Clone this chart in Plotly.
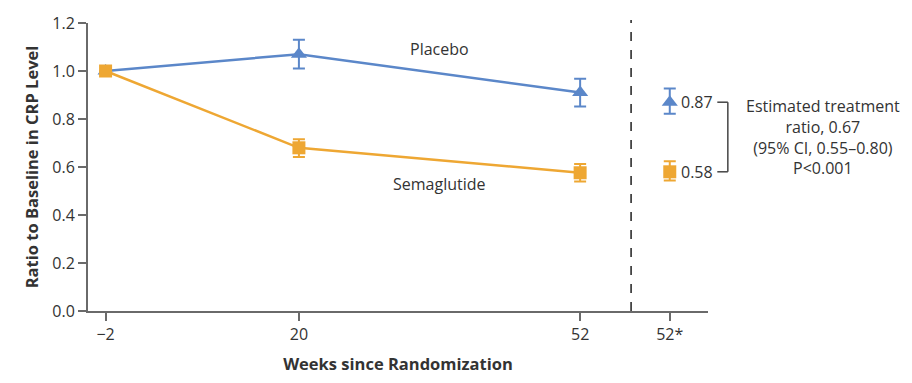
import plotly.graph_objects as go

weeks = [-2, 20, 52]
tick_vals = [-2, 20, 52, 62.2]
tick_text = ["\u22122", "20", "52", "52*"]

placebo = [1.0, 1.07, 0.91]
placebo_hi = [1.0, 1.13, 0.968]
placebo_lo = [1.0, 1.01, 0.852]

sema = [1.0, 0.68, 0.576]
sema_hi = [1.0, 0.716, 0.612]
sema_lo = [1.0, 0.642, 0.54]

est_x = 62.2
est_placebo, est_placebo_hi, est_placebo_lo = 0.87, 0.927, 0.822
est_sema, est_sema_hi, est_sema_lo = 0.58, 0.624, 0.544

BLUE = "#5b87c9"
ORANGE = "#eea733"
TXT = "#333333"
AX = "#6a6a6a"
FONT = "Open Sans"

def err(v, hi, lo):
    return dict(type="data", symmetric=False,
                array=[h - x for h, x in zip(hi, v)],
                arrayminus=[x - l for x, l in zip(v, lo)])

fig = go.Figure()
fig.add_trace(go.Scatter(x=weeks, y=placebo, mode="lines+markers",
                         line=dict(color=BLUE, width=2.5),
                         marker=dict(symbol="triangle-up", size=14, color=BLUE),
                         error_y=dict(**err(placebo, placebo_hi, placebo_lo), color=BLUE, thickness=2, width=6)))
fig.add_trace(go.Scatter(x=weeks, y=sema, mode="lines+markers",
                         line=dict(color=ORANGE, width=2.5),
                         marker=dict(symbol="square", size=13, color=ORANGE),
                         error_y=dict(**err(sema, sema_hi, sema_lo), color=ORANGE, thickness=2, width=6)))
fig.add_trace(go.Scatter(x=[est_x], y=[est_placebo], mode="markers",
                         marker=dict(symbol="triangle-up", size=14, color=BLUE),
                         error_y=dict(**err([est_placebo], [est_placebo_hi], [est_placebo_lo]), color=BLUE, thickness=2, width=6)))
fig.add_trace(go.Scatter(x=[est_x], y=[est_sema], mode="markers",
                         marker=dict(symbol="square", size=13, color=ORANGE),
                         error_y=dict(**err([est_sema], [est_sema_hi], [est_sema_lo]), color=ORANGE, thickness=2, width=6)))

# dashed separator
fig.add_shape(type="line", xref="x", yref="paper", x0=57.8, x1=57.8, y0=0, y1=1.01,
              line=dict(color="#444", width=1.8, dash="dash"))

# bracket (outside plot area, in paper x)
bx0, bx1 = 1.015, 1.032
for yv in (est_placebo, est_sema):
    fig.add_shape(type="line", xref="paper", yref="y", x0=bx0, x1=bx1, y0=yv, y1=yv,
                  line=dict(color="#444", width=1.5))
fig.add_shape(type="line", xref="paper", yref="y", x0=bx1, x1=bx1, y0=est_sema, y1=est_placebo,
              line=dict(color="#444", width=1.5))

ann = [
    dict(x=est_x, y=est_placebo, text=f"{est_placebo:.2f}", xanchor="left", xshift=9),
    dict(x=est_x, y=est_sema, text=f"{est_sema:.2f}", xanchor="left", xshift=9),
    dict(x=36, y=1.09, text="Placebo", xanchor="center"),
    dict(x=36, y=0.53, text="Semaglutide", xanchor="center"),
]
for a in ann:
    fig.add_annotation(xref="x", yref="y", showarrow=False, yanchor="middle",
                       font=dict(family=FONT, size=16, color=TXT), **a)
fig.add_annotation(xref="paper", yref="y", x=1.185, y=0.725, xanchor="center", yanchor="middle",
                   showarrow=False, align="center",
                   text="Estimated treatment<br>ratio, 0.67<br>(95% CI, 0.55\u20130.80)<br>P<0.001",
                   font=dict(family=FONT, size=16, color=TXT))

fig.update_layout(
    width=912, height=383,
    margin=dict(l=88, r=204, t=15, b=68),
    plot_bgcolor="white", paper_bgcolor="white",
    showlegend=False,
    font=dict(family=FONT, size=16, color=TXT),
    xaxis=dict(range=[-4, 66.55], tickmode="array", tickvals=tick_vals, ticktext=tick_text,
               showgrid=False, zeroline=False, showline=True, linecolor=AX, linewidth=2,
               ticks="outside", ticklen=8, tickwidth=1.5, tickcolor=AX,
               tickfont=dict(family=FONT, size=16, color=TXT),
               title=dict(text="<b>Weeks since Randomization</b>", standoff=14,
                          font=dict(family=FONT, size=16.5, color=TXT))),
    yaxis=dict(range=[0, 1.2], tickvals=[0, 0.2, 0.4, 0.6, 0.8, 1.0, 1.2], tickformat=".1f",
               showgrid=False, zeroline=False, showline=True, linecolor=AX, linewidth=2,
               ticks="outside", ticklen=8, tickwidth=1.5, tickcolor=AX,
               tickfont=dict(family=FONT, size=16, color=TXT),
               title=dict(text="<b>Ratio to Baseline in CRP Level</b>", standoff=10,
                          font=dict(family=FONT, size=16.5, color=TXT))),
)

fig.write_html("out.html")
